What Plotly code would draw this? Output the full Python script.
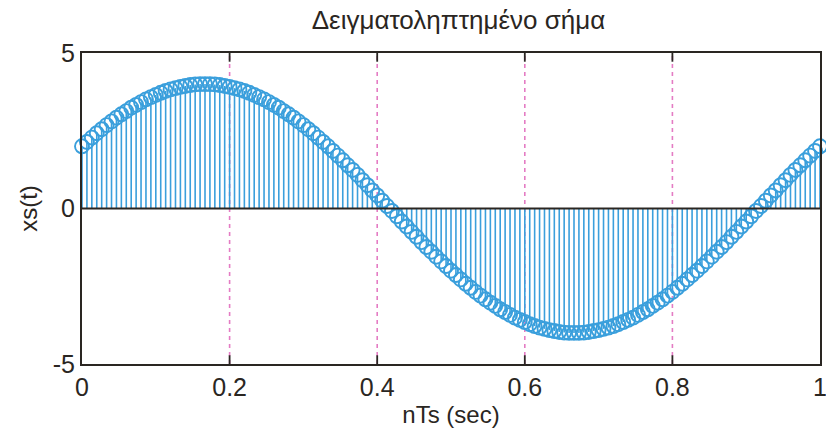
import plotly.graph_objects as go

# sample index n, sampling period Ts = 1/150 s  (151 samples over 0..1 s)
n_samples = list(range(151))
Ts = 1 / 150
t_values = [n * Ts for n in n_samples]

first_half = [2.00, 2.14, 2.28, 2.42, 2.55, 2.68, 2.80, 2.92, 3.03, 3.13,
              3.24, 3.33, 3.42, 3.51, 3.58, 3.65, 3.72, 3.78, 3.83, 3.87,
              3.91, 3.94, 3.97, 3.99, 4.00, 4.00, 4.00, 3.99, 3.97, 3.94,
              3.91, 3.87, 3.83, 3.78, 3.72, 3.65, 3.58, 3.51, 3.42, 3.33,
              3.24, 3.13, 3.03, 2.92, 2.80, 2.68, 2.55, 2.42, 2.28, 2.14,
              2.00, 1.85, 1.70, 1.55, 1.39, 1.24, 1.08, 0.91, 0.75, 0.58,
              0.42, 0.25, 0.08, -0.08, -0.25, -0.42, -0.58, -0.75, -0.91, -1.08,
              -1.24, -1.39, -1.55, -1.70, -1.85]
second_half = [-2.00, -2.14, -2.28, -2.42, -2.55, -2.68, -2.80, -2.92, -3.03, -3.13,
               -3.24, -3.33, -3.42, -3.51, -3.58, -3.65, -3.72, -3.78, -3.83, -3.87,
               -3.91, -3.94, -3.97, -3.99, -4.00, -4.00, -4.00, -3.99, -3.97, -3.94,
               -3.91, -3.87, -3.83, -3.78, -3.72, -3.65, -3.58, -3.51, -3.42, -3.33,
               -3.24, -3.13, -3.03, -2.92, -2.80, -2.68, -2.55, -2.42, -2.28, -2.14,
               -2.00, -1.85, -1.70, -1.55, -1.39, -1.24, -1.08, -0.91, -0.75, -0.58,
               -0.42, -0.25, -0.08, 0.08, 0.25, 0.42, 0.58, 0.75, 0.91, 1.08,
               1.24, 1.39, 1.55, 1.70, 1.85, 2.00]
xs_values = first_half + second_half

x_ticks = [0, 0.2, 0.4, 0.6, 0.8]
x_tick_labels = ["0", "0.2", "0.4", "0.6", "0.8"]
x_last_tick = 1
x_last_label = "1"
y_ticks = [-5, 0, 5]
y_tick_labels = ["-5", "0", "5"]
grid_x = [0.2, 0.4, 0.6, 0.8]

BLUE = "#3a9fdc"
PINK = "#e47cc4"
INK = "#2a2622"
FONT = "Liberation Sans, Arial, sans-serif"

stem_x, stem_y = [], []
for t, v in zip(t_values, xs_values):
    stem_x += [t, t, None]
    stem_y += [0, v, None]

fig = go.Figure()
fig.add_trace(go.Scatter(x=stem_x, y=stem_y, mode="lines",
                         line=dict(color=BLUE, width=1.6),
                         hoverinfo="skip", showlegend=False, cliponaxis=False))
fig.add_trace(go.Scatter(x=t_values, y=xs_values, mode="markers",
                         marker=dict(symbol="circle-open", size=14, color=BLUE,
                                     line=dict(color=BLUE, width=1.9)),
                         showlegend=False, cliponaxis=False))

for gx in grid_x:
    fig.add_shape(type="line", xref="x", yref="paper", x0=gx, x1=gx, y0=0, y1=1,
                  line=dict(color=PINK, width=1.6, dash="4px,4px"), layer="below")
    fig.add_shape(type="line", xref="x", yref="paper", x0=gx, x1=gx, y0=0, y1=0.028,
                  line=dict(color=INK, width=1.8))
    fig.add_shape(type="line", xref="x", yref="paper", x0=gx, x1=gx, y0=0.972, y1=1,
                  line=dict(color=INK, width=1.8))

fig.add_shape(type="line", xref="paper", yref="y", x0=0, x1=1, y0=0, y1=0,
              line=dict(color=INK, width=1.8))

fig.add_annotation(x=x_last_tick, xref="x", y=0, yref="paper", yshift=-7,
                   text=x_last_label, showarrow=False, xanchor="center",
                   yanchor="top", font=dict(size=25, color=INK, family=FONT))

fig.update_layout(
    width=826, height=439,
    margin=dict(l=82, r=4, t=53, b=75),
    paper_bgcolor="white", plot_bgcolor="white",
    font=dict(family=FONT, color=INK, size=25),
    title=dict(text="Δειγματοληπτημένο σήμα", x=0.555, xanchor="center",
               y=0.955, yanchor="middle", font=dict(size=26, color=INK)),
    xaxis=dict(range=[0, 1], tickvals=x_ticks, ticktext=x_tick_labels,
               showgrid=False, zeroline=False, showline=True, mirror=True,
               linecolor=INK, linewidth=2, ticks="", ticklen=0,
               title=dict(text="nTs (sec)", standoff=6, font=dict(size=24)),
               tickfont=dict(size=25)),
    yaxis=dict(range=[-5, 5], tickvals=y_ticks, ticktext=y_tick_labels,
               showgrid=False, zeroline=False, showline=True, mirror=True,
               linecolor=INK, linewidth=2, ticks="", ticklen=0,
               title=dict(text="xs(t)", standoff=8, font=dict(size=24)),
               tickfont=dict(size=25)),
)

fig.write_html("out.html")
